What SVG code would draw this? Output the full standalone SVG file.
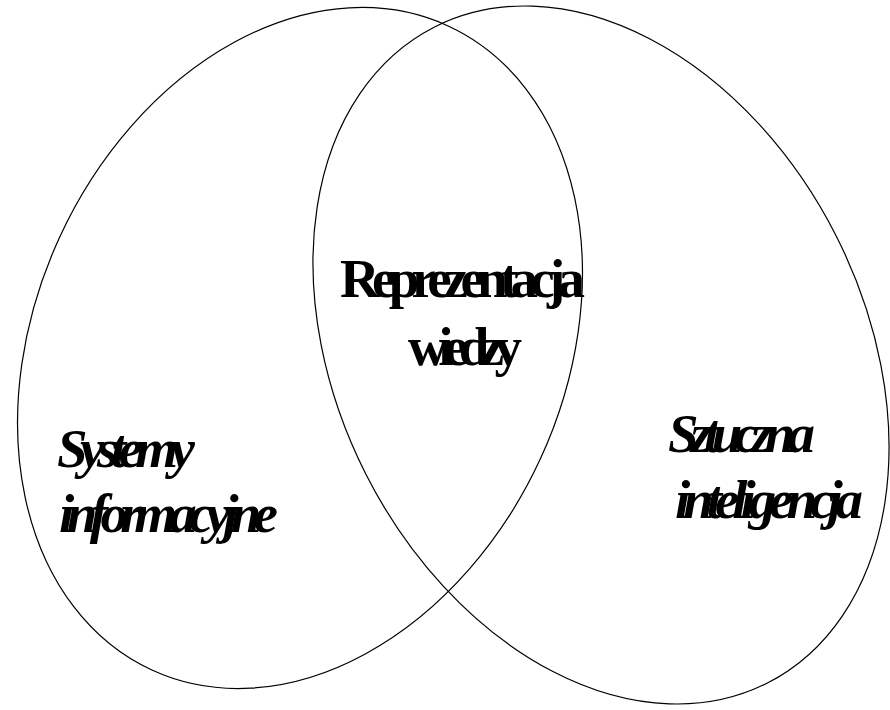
<svg xmlns="http://www.w3.org/2000/svg" width="890" height="710" viewBox="0 0 890 710">
<style>
.ell{fill:none;stroke:#000;stroke-width:1.2}
.t{font-family:"Liberation Serif","Times New Roman",serif;font-weight:bold;font-size:55px;fill:#000}
.i{font-style:italic}
</style>
<rect width="890" height="710" fill="#fff"/>
<g id="connectors"></g>
<g id="left-set">
<ellipse class="ell" cx="300" cy="348" rx="264.7" ry="354.5" transform="rotate(24.7 300 348)"/>
<text class="t i" x="57" y="467" textLength="138" lengthAdjust="spacing">Systemy</text>
<text class="t i" x="59" y="532" textLength="219" lengthAdjust="spacing">informacyjne</text>
</g>
<g id="right-set">
<ellipse class="ell" cx="601" cy="355" rx="263.6" ry="367.8" transform="rotate(-26.9 601 355)"/>
<text class="t i" x="668" y="452" textLength="147" lengthAdjust="spacing">Sztuczna</text>
<text class="t i" x="675" y="518" textLength="188" lengthAdjust="spacing">inteligencja</text>
</g>
<g id="intersection">
<text class="t" x="340" y="297" textLength="245" lengthAdjust="spacing">Reprezentacja</text>
<text class="t" x="408" y="365" textLength="114" lengthAdjust="spacing">wiedzy</text>
</g>
</svg>
